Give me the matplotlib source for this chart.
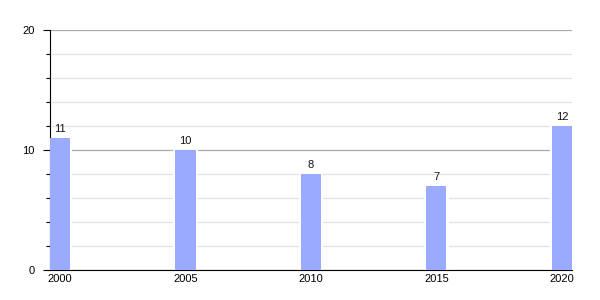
import matplotlib
matplotlib.use("Agg")
import matplotlib.pyplot as plt
from matplotlib.ticker import MultipleLocator

years = [2000, 2005, 2010, 2015, 2020]
values = [11, 10, 8, 7, 12]
y_ticks = [0, 10, 20]

plt.rcParams["font.family"] = ["Liberation Sans", "DejaVu Sans"]

fig = plt.figure(figsize=(6, 3), dpi=100)
ax = fig.add_axes([0.0833, 0.1, 0.87, 0.8])

# white halo so gridlines stop short of each bar
ax.bar(years, values, width=0.96, color="white", zorder=2)
ax.bar(years, values, width=0.8, color="#99aaff", zorder=3)

for x, v in zip(years, values):
    ax.text(x, v + 0.3, str(v), ha="center", va="bottom", fontsize=8, color="#111111", zorder=4)

ax.set_xlim(years[0] - 0.4, years[-1] + 0.4)
ax.set_ylim(0, 20)
ax.set_xticks(years)
ax.set_xticklabels([str(y) for y in years])
ax.set_yticks(y_ticks)
ax.yaxis.set_minor_locator(MultipleLocator(2))

ax.grid(axis="y", which="major", color="#aaaaaa", linewidth=0.9, zorder=1)
ax.grid(axis="y", which="minor", color="#e2e2e2", linewidth=0.9, zorder=1)
ax.set_axisbelow(True)

for side in ("top", "right"):
    ax.spines[side].set_visible(False)
ax.spines["left"].set_color("black")
ax.spines["bottom"].set_color("black")

ax.tick_params(axis="x", length=0, pad=3, labelsize=8)
ax.tick_params(axis="y", which="major", length=5, width=0.8, pad=6, labelsize=8)
ax.tick_params(axis="y", which="minor", length=3, width=0.8)

fig.savefig("out.png", dpi=100)
